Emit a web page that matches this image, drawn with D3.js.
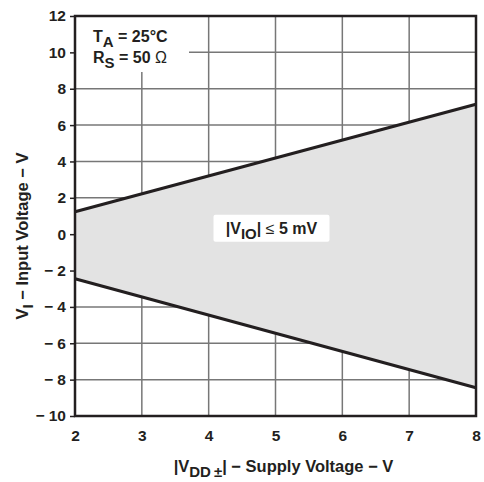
<!DOCTYPE html>
<html>
<head>
<meta charset="utf-8">
<script src="https://d3js.org/d3.v7.min.js"></script>
<style>
body { margin: 0; background: #fff; }
text { font-family: "Liberation Sans", Arial, sans-serif; font-weight: bold; fill: #231f20; }
</style>
</head>
<body>
<div id="chart"></div>
<script>
// data
var supplyV = [2, 8];
var upperV = [1.23, 7.15];
var lowerV = [-2.45, -8.45];
var xTicks = [2, 3, 4, 5, 6, 7, 8];
var yTicks = [-10, -8, -6, -4, -2, 0, 2, 4, 6, 8, 10, 12];

var svgWidth = 484;
var svgHeight = 482;
var margin = { top: 16, right: 8, bottom: 66, left: 75 };
var width = 401;
var height = 400;

var svg = d3.select("#chart")
    .append("svg")
    .attr("width", svgWidth)
    .attr("height", svgHeight);

var chartGroup = svg.append("g")
    .attr("transform", `translate(${margin.left}, ${margin.top})`);

var x = d3.scaleLinear().domain([2, 8]).range([0, width]);
var y = d3.scaleLinear().domain([-10, 12]).range([height, 0]);

// grid
chartGroup.append("g")
    .selectAll("line")
    .data(xTicks.slice(1, -1))
    .enter().append("line")
    .attr("x1", d => x(d)).attr("x2", d => x(d))
    .attr("y1", 0).attr("y2", height)
    .attr("stroke", "#777").attr("stroke-width", 1.5);

chartGroup.append("g")
    .selectAll("line")
    .data(yTicks.slice(1, -1))
    .enter().append("line")
    .attr("x1", 0).attr("x2", width)
    .attr("y1", d => y(d)).attr("y2", d => y(d))
    .attr("stroke", "#777").attr("stroke-width", 1.5);

// shaded region
var region = supplyV.map((v, i) => [v, upperV[i], lowerV[i]]);
chartGroup.append("path")
    .datum(region)
    .attr("fill", "#e3e3e3")
    .attr("d", d3.area().x(d => x(d[0])).y0(d => y(d[2])).y1(d => y(d[1])));

var line = d3.line().x(d => x(d[0])).y(d => y(d[1]));
chartGroup.append("path")
    .datum(supplyV.map((v, i) => [v, upperV[i]]))
    .attr("fill", "none").attr("stroke", "#231f20").attr("stroke-width", 3.2)
    .attr("d", line);
chartGroup.append("path")
    .datum(supplyV.map((v, i) => [v, lowerV[i]]))
    .attr("fill", "none").attr("stroke", "#231f20").attr("stroke-width", 3.2)
    .attr("d", line);

// legend box covering grid
chartGroup.append("rect")
    .attr("x", 1).attr("y", 1).attr("width", 113).attr("height", 55)
    .attr("fill", "#fff");
var leg = chartGroup.append("text").attr("x", 18).attr("y", 26).style("font-size", "16px");
leg.append("tspan").text("T");
leg.append("tspan").attr("dy", 5).style("font-size", "15px").text("A");
leg.append("tspan").attr("dy", -5).text(" = 25°C");
var leg2 = chartGroup.append("text").attr("x", 18).attr("y", 47).style("font-size", "16px");
leg2.append("tspan").text("R");
leg2.append("tspan").attr("dy", 5).style("font-size", "15px").text("S");
leg2.append("tspan").attr("dy", -5).text(" = 50 ");
leg2.append("tspan").style("font-weight", "normal").text("Ω");

// VIO label
chartGroup.append("rect")
    .attr("x", x(4.94) - 58).attr("y", y(0.3) - 14)
    .attr("width", 116).attr("height", 27).attr("rx", 2)
    .attr("fill", "#fff");
var vio = chartGroup.append("text")
    .attr("x", x(4.94)).attr("y", y(0.3) + 5)
    .attr("text-anchor", "middle").style("font-size", "16px");
vio.append("tspan").text("|V");
vio.append("tspan").attr("dy", 5).style("font-size", "15px").text("IO");
vio.append("tspan").attr("dy", -5).text("| ");
vio.append("tspan").style("font-weight", "normal").text("≤ ");
vio.append("tspan").text("5 mV");

// frame
chartGroup.append("rect")
    .attr("width", width).attr("height", height)
    .attr("fill", "none").attr("stroke", "#231f20").attr("stroke-width", 2.5);

// axes
var leftAxis = d3.axisLeft(y).tickValues(yTicks).tickSize(5).tickPadding(4)
    .tickFormat(d => d < 0 ? "\u2212 " + Math.abs(d) : d);
var yAxis = chartGroup.append("g").call(leftAxis);
yAxis.select(".domain").remove();
yAxis.selectAll("line").attr("stroke", "#231f20").attr("stroke-width", 1.5);
yAxis.selectAll("text").style("font-size", "15.5px").style("font-family", null);

var bottomAxis = d3.axisBottom(x).tickValues(xTicks).tickSize(0).tickPadding(14)
    .tickFormat(d3.format("d"));
var xAxis = chartGroup.append("g").attr("transform", `translate(0,${height})`).call(bottomAxis);
xAxis.select(".domain").remove();
xAxis.selectAll("text").style("font-size", "15.5px").style("font-family", null);

// axis titles
var xt = svg.append("text")
    .attr("x", margin.left + width / 2 + 8).attr("y", 472)
    .attr("text-anchor", "middle").style("font-size", "16.5px");
xt.append("tspan").text("|V");
xt.append("tspan").attr("dy", 5).style("font-size", "15px").text("DD\u2009\u00b1");
xt.append("tspan").attr("dy", -5).text("| \u2212 Supply Voltage \u2212 V");

var yt = svg.append("text")
    .attr("transform", `translate(28,236) rotate(-90)`)
    .attr("text-anchor", "middle").style("font-size", "16.5px");
yt.append("tspan").text("V");
yt.append("tspan").attr("dy", 5).style("font-size", "15px").text("I");
yt.append("tspan").attr("dy", -5).text("  \u2212 Input Voltage \u2212 V");
</script>
</body>
</html>
